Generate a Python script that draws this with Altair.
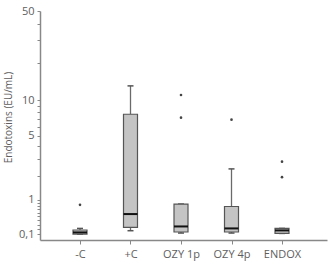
import json
import altair as alt
import pandas as pd

categories = ["-C", "+C", "OZY 1p", "OZY 4p", "ENDOX"]
whisker_low = [0.108, 0.173, 0.127, 0.127, 0.12]
q1 = [0.108, 0.241, 0.147, 0.147, 0.12]
median = [0.139, 0.561, 0.262, 0.22, 0.179]
q3 = [0.187, 7.66, 0.853, 0.778, 0.22]
whisker_high = [0.22, 13.1, 0.853, 2.39, 0.22]

outlier_group = ["-C", "OZY 1p", "OZY 1p", "OZY 4p", "ENDOX", "ENDOX"]
outlier_value = [0.83, 7.17, 11.05, 6.89, 1.94, 2.84]

y_ticks = [0.1, 0.2, 0.3, 0.4, 0.5, 0.6, 0.7, 0.8, 0.9, 1, 2, 3, 4, 5,
           6, 7, 8, 9, 10, 20, 30, 40, 50]
y_labelled = ["0,1", "1", "5", "10", "50"]
y_labelled_values = [0.1, 1, 5, 10, 50]

boxes = pd.DataFrame({
    "idx": list(range(len(categories))),
    "cat": categories,
    "lo": whisker_low,
    "q1": q1,
    "med": median,
    "q3": q3,
    "hi": whisker_high,
})
outl = pd.DataFrame({
    "idx": [categories.index(c) for c in outlier_group],
    "val": outlier_value,
})

FONT = "Open Sans"
GREY = "#5e5e5e"

ylab_expr = " : ".join(
    f"abs(datum.value - {v}) < 1e-6 ? '{t}'" for v, t in zip(y_labelled_values, y_labelled)
) + " : ''"
xlab_expr = f"{json.dumps(categories)}[round(datum.value)]"

x_axis = alt.Axis(
    values=list(range(len(categories))),
    labelExpr=xlab_expr,
    title=None,
    grid=False,
    tickSize=4,
    labelPadding=4,
    labelFontSize=11,
    labelFont=FONT,
    labelColor=GREY,
    domainColor="#888888",
    domainWidth=1.5,
    tickColor="#888888",
    labelFlush=False,
)
x_scale = alt.Scale(domain=[-0.792, 4.891], nice=False, zero=False)

y_scale = alt.Scale(type="symlog", domain=[0, 50], nice=False, zero=True)
y_axis = alt.Axis(
    values=y_ticks,
    labelExpr=ylab_expr,
    title="Endotoxins (EU/mL)",
    titleFont=FONT,
    titleFontSize=10,
    titleFontWeight="normal",
    titleColor=GREY,
    titleY=106,
    titlePadding=5,
    grid=False,
    tickSize=3,
    labelPadding=3,
    labelFontSize=11,
    labelFont=FONT,
    labelColor=GREY,
    domainColor="#888888",
    domainWidth=1.5,
    tickColor="#888888",
    labelFlush=False,
    labelOverlap=False,
    labelBound=False,
)


def X():
    return alt.X("idx:Q", scale=x_scale, axis=x_axis)


def Y(field):
    return alt.Y(field, scale=y_scale, axis=y_axis)


base = alt.Chart(boxes)

whisk_low = base.mark_rule(color="#6a6a6a", strokeWidth=1.3).encode(
    x=X(), y=Y("lo:Q"), y2="q1:Q")
whisk_high = base.mark_rule(color="#6a6a6a", strokeWidth=1.3).encode(
    x=X(), y=Y("q3:Q"), y2="hi:Q")
cap_low = base.mark_rule(color="#555555", strokeWidth=1.5, xOffset=-3, x2Offset=3).encode(
    x=X(), x2="idx:Q", y=Y("lo:Q"))
cap_high = base.mark_rule(color="#555555", strokeWidth=1.5, xOffset=-3, x2Offset=3).encode(
    x=X(), x2="idx:Q", y=Y("hi:Q"))
box = base.mark_rect(fill="#c4c4c4", stroke="#555555", strokeWidth=1.2,
                     xOffset=-7, x2Offset=7).encode(
    x=X(), x2="idx:Q", y=Y("q1:Q"), y2="q3:Q")
med = base.mark_rule(color="#111111", strokeWidth=2, xOffset=-7, x2Offset=7).encode(
    x=X(), x2="idx:Q", y=Y("med:Q"))
pts = alt.Chart(outl).mark_point(shape="circle", filled=True, size=7,
                                 color="#444444", opacity=1).encode(
    x=X(), y=Y("val:Q"))

chart = alt.layer(whisk_low, whisk_high, cap_low, cap_high, box, med, pts).properties(
    width=287,
    height=229,
    padding={"left": 40, "top": 11, "right": 6, "bottom": 33},
    autosize=alt.AutoSizeParams(type="none"),
    background="white",
).configure_view(stroke=None)

chart.save("out.html", embed_options={"renderer": "svg", "actions": False})
